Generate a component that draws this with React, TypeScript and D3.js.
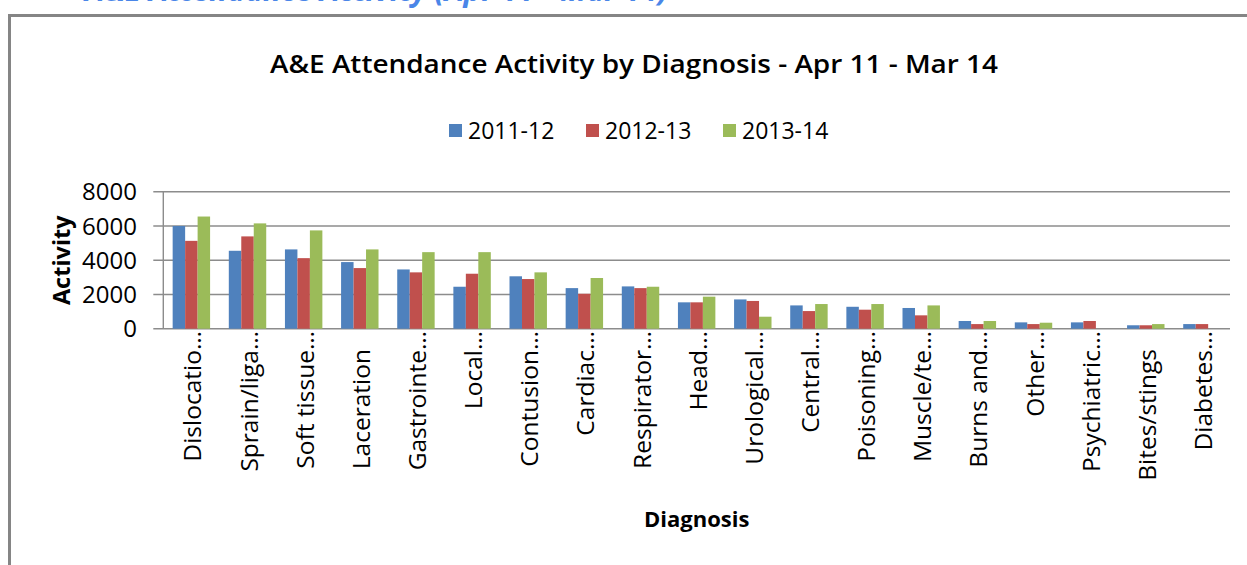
import React from 'react';
import * as d3 from 'd3';

const categories = [
  "Dislocatio…", "Sprain/liga…", "Soft tissue…", "Laceration", "Gastrointe…",
  "Local…", "Contusion…", "Cardiac…", "Respirator…", "Head…", "Urological…",
  "Central…", "Poisoning…", "Muscle/te…", "Burns and…", "Other…",
  "Psychiatric…", "Bites/stings", "Diabetes…",
];
const seriesNames = ["2011-12", "2012-13", "2013-14"];
const values2011 = [6000, 4550, 4630, 3890, 3460, 2450, 3060, 2370, 2470, 1540, 1710, 1360, 1280, 1210, 450, 370, 370, 200, 270];
const values2012 = [5130, 5390, 4120, 3540, 3290, 3210, 2900, 2040, 2370, 1540, 1620, 1030, 1110, 780, 270, 270, 450, 200, 270];
const values2013 = [6550, 6150, 5740, 4630, 4470, 4470, 3290, 2960, 2450, 1870, 700, 1440, 1440, 1360, 450, 350, 0, 270, 0];
const yTicks = [0, 2000, 4000, 6000, 8000];
const colors = ["#4f81bd", "#c0504d", "#9bbb59"];

const title = "A&E Attendance Activity by Diagnosis - Apr 11 - Mar 14";
const headingAbove = "A&E Attendance Activity (Apr 11 - Mar 14)";
const yTitle = "Activity";
const xTitle = "Diagnosis";

const FONT = "'Open Sans', 'Noto Sans', sans-serif";

export default function App() {
  const W = 1247, H = 565;
  const plot = { left: 163.3, right: 1230, top: 191.7, bottom: 328.7 };
  const x = d3.scaleBand<string>().domain(categories).range([plot.left, plot.right]).paddingInner(1 / 3).paddingOuter(1 / 6);
  const xs = d3.scaleBand<string>().domain(seriesNames).range([0, x.bandwidth()]);
  const y = d3.scaleLinear().domain([0, 8000]).range([plot.bottom, plot.top]);
  const data = [values2011, values2012, values2013];
  const labelEnd = 331;
  const ellipsisPad = 18;
  const gridColor = "#8c8c8c";

  return (
    <div style={{ position: 'fixed', left: 0, top: 0 }}>
      <svg width={W} height={H} style={{ display: 'block', background: '#fff' }} fontFamily={FONT}>
        {/* heading above the chart, cut off by the top edge as in the reference */}
        <text x={668} y={1} textAnchor="end" fontSize={30} fontWeight={700} fontStyle="italic" fill="#4a86e8">{headingAbove}</text>
        {/* chart border */}
        <rect x={9.5} y={15.5} width={W + 20} height={H + 20} fill="#fff" stroke="#858585" strokeWidth={3} />

        {/* title */}
        <text x={634} y={73} textAnchor="middle" fontSize={25.5} fontWeight={600} fill="#000" textLength={728} lengthAdjust="spacingAndGlyphs">{title}</text>

        {/* legend */}
        {seriesNames.map((s, i) => (
          <g key={s} transform={`translate(${449 + i * 137},131)`}>
            <rect x={0} y={-7} width={13} height={13} fill={colors[i]} />
            <text x={19} y={0} dy="0.36em" fontSize={23} fill="#000">{s}</text>
          </g>
        ))}

        {/* gridlines and y ticks */}
        {yTicks.map(t => (
          <g key={t}>
            <line x1={plot.left - 10} x2={plot.right} y1={y(t)} y2={y(t)} stroke={gridColor} strokeWidth={1.4} />
            <text x={137} y={y(t)} dy="0.36em" textAnchor="end" fontSize={24} fill="#000">{t}</text>
          </g>
        ))}
        <line x1={plot.left} x2={plot.left} y1={plot.top} y2={plot.bottom} stroke={gridColor} strokeWidth={1.4} />

        {/* bars */}
        {categories.map((c, ci) => (
          <g key={c} transform={`translate(${x(c)},0)`}>
            {seriesNames.map((s, si) => {
              const v = data[si][ci];
              if (!v) return null;
              return <rect key={s} x={xs(s)} y={y(v)} width={xs.bandwidth()} height={y(0) - y(v)} fill={colors[si]} />;
            })}
          </g>
        ))}

        {/* category labels */}
        {categories.map(c => {
          const cx = (x(c) as number) + x.bandwidth() / 2;
          const truncated = c.endsWith("…");
          return (
            <text key={c} transform={`translate(${cx + 10},${labelEnd + (truncated ? 0 : ellipsisPad)}) rotate(-90)`} textAnchor="end" fontSize={24.5} fill="#000">{c}</text>
          );
        })}

        {/* axis titles */}
        <text transform={`translate(70,${(plot.top + plot.bottom) / 2}) rotate(-90)`} textAnchor="middle" fontSize={23.5} fontWeight={700} fill="#000">{yTitle}</text>
        <text x={(plot.left + plot.right) / 2} y={527} textAnchor="middle" fontSize={22} fontWeight={700} fill="#000">{xTitle}</text>
      </svg>
    </div>
  );
}
